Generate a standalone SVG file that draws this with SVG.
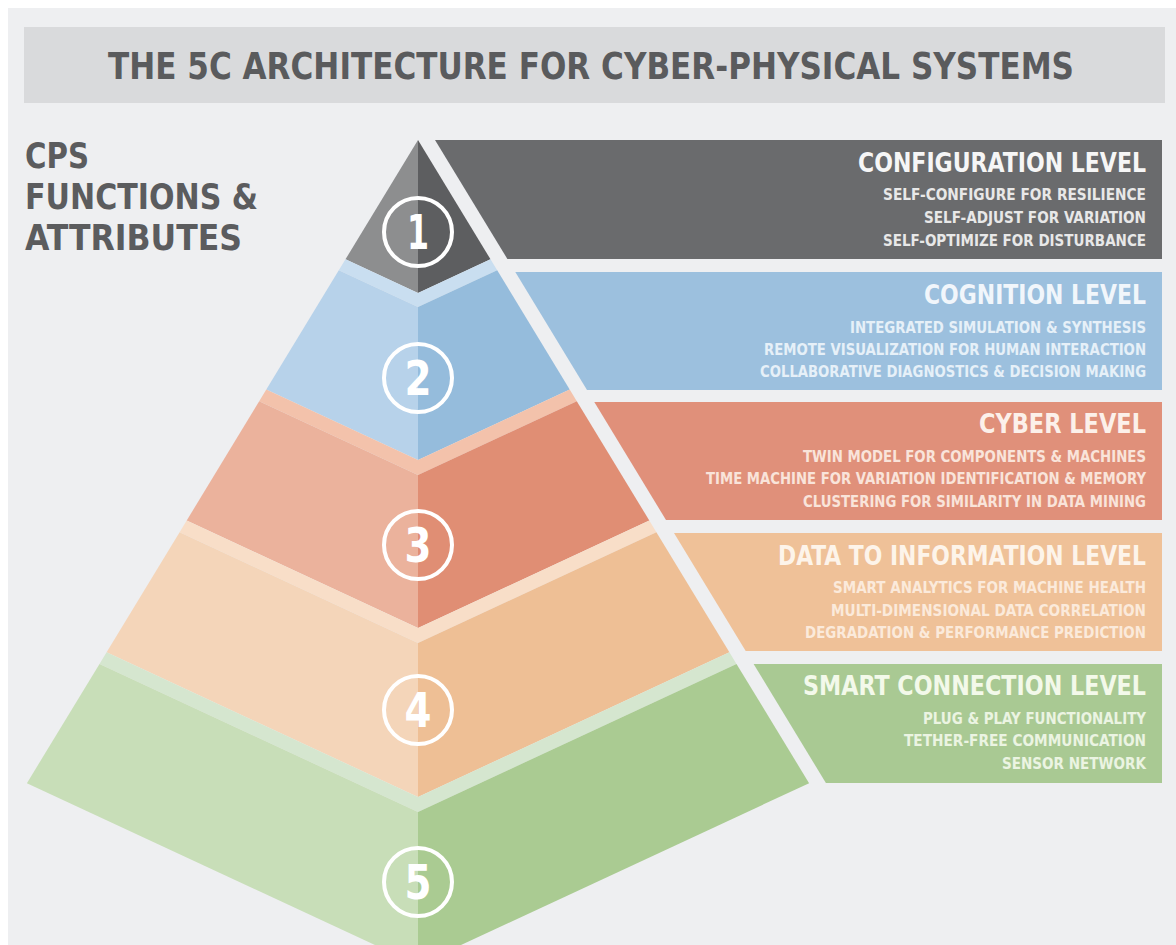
<svg xmlns="http://www.w3.org/2000/svg" width="1176" height="945" viewBox="0 0 1176 945">
<style>
.h{font-family:"DejaVu Sans Condensed","DejaVu Sans","Liberation Sans",sans-serif;font-weight:bold;font-stretch:condensed;}
.bt{font-size:26px;text-anchor:end;}
.bl{font-size:15px;text-anchor:end;}
.num{font-size:48px;fill:#ffffff;text-anchor:middle;}
.ring{fill:none;stroke:#ffffff;stroke-width:4;}
</style>
<rect x="0" y="0" width="1176" height="945" fill="#ffffff"/>
<rect x="8" y="8" width="1168" height="937" fill="#eeeff1"/>
<g id="title">
<rect x="24" y="27" width="1141" height="76" fill="#d9dadc"/>
<text class="h" x="108" y="79" font-size="37" fill="#5a5b5d" textLength="966" lengthAdjust="spacingAndGlyphs">THE 5C ARCHITECTURE FOR CYBER-PHYSICAL SYSTEMS</text>
</g>
<g id="side-label" class="h" font-size="35" fill="#5b5c5e">
<text x="25" y="168" textLength="64" lengthAdjust="spacingAndGlyphs">CPS</text>
<text x="25" y="209" textLength="233" lengthAdjust="spacingAndGlyphs">FUNCTIONS &amp;</text>
<text x="25" y="250" textLength="217" lengthAdjust="spacingAndGlyphs">ATTRIBUTES</text>
</g>
<g id="pyramid">
<g id="level1">
<polygon points="418,140 345.5,259.3 418,293" fill="#8d8e8f"/>
<polygon points="418,140 490.5,259.3 418,293" fill="#5d5e60"/>
<circle class="ring" cx="418" cy="232" r="34"/>
<text class="h num" x="418" y="249" textLength="22" lengthAdjust="spacingAndGlyphs">1</text>
</g>
<g id="level2">
<polygon points="345.5,259.3 418,293 490.5,259.3 497.2,270.2 418,307 338.8,270.2" fill="#c9def0"/>
<polygon points="338.8,270.2 418,307 418,460 266.3,389.5" fill="#b7d2ea"/>
<polygon points="418,307 497.2,270.2 569.7,389.5 418,460" fill="#95bcdc"/>
<circle class="ring" cx="418" cy="378" r="34"/>
<text class="h num" x="418" y="395" textLength="27" lengthAdjust="spacingAndGlyphs">2</text>
</g>
<g id="level3">
<polygon points="266.3,389.5 418,460 569.7,389.5 576.8,401.2 418,475 259.2,401.2" fill="#f3c2ab"/>
<polygon points="259.2,401.2 418,475 418,628 186.7,520.5" fill="#ebb29c"/>
<polygon points="418,475 576.8,401.2 649.3,520.5 418,628" fill="#e08e74"/>
<circle class="ring" cx="418" cy="545" r="34"/>
<text class="h num" x="418" y="562" textLength="27" lengthAdjust="spacingAndGlyphs">3</text>
</g>
<g id="level4">
<polygon points="186.7,520.5 418,628 649.3,520.5 656.4,532.2 418,643 179.6,532.2" fill="#f8dec8"/>
<polygon points="179.6,532.2 418,643 418,797 106.6,652.2" fill="#f4d5b9"/>
<polygon points="418,643 656.4,532.2 729.4,652.2 418,797" fill="#eebf95"/>
<circle class="ring" cx="418" cy="710" r="34"/>
<text class="h num" x="418" y="727" textLength="27" lengthAdjust="spacingAndGlyphs">4</text>
</g>
<g id="level5">
<polygon points="106.6,652.2 418,797 729.4,652.2 736.5,663.9 418,812 99.5,663.9" fill="#d5e6cf"/>
<polygon points="99.5,663.9 418,812 418,965 26.9,783.2" fill="#c8deb8"/>
<polygon points="418,812 736.5,663.9 809.1,783.2 418,965" fill="#aacb92"/>
<circle class="ring" cx="418" cy="882" r="34"/>
<text class="h num" x="418" y="899" textLength="27" lengthAdjust="spacingAndGlyphs">5</text>
</g>
</g>
<g id="box1">
<polygon points="435,140 1162,140 1162,259 507.4,259" fill="#6a6b6d"/>
<text class="h bt" x="1146" y="172" fill="#f6f6f6" textLength="288" lengthAdjust="spacingAndGlyphs">CONFIGURATION LEVEL</text>
<g class="h bl" fill="#e8e8e8">
<text x="1146" y="200" textLength="263" lengthAdjust="spacingAndGlyphs">SELF-CONFIGURE FOR RESILIENCE</text>
<text x="1146" y="223" textLength="222" lengthAdjust="spacingAndGlyphs">SELF-ADJUST FOR VARIATION</text>
<text x="1146" y="246" textLength="263" lengthAdjust="spacingAndGlyphs">SELF-OPTIMIZE FOR DISTURBANCE</text>
</g>
</g>
<g id="box2">
<polygon points="515.3,272 1162,272 1162,390 587,390" fill="#9cc0de"/>
<text class="h bt" x="1146" y="304" fill="#f1f6fb" textLength="222" lengthAdjust="spacingAndGlyphs">COGNITION LEVEL</text>
<g class="h bl" fill="#e6f0f8">
<text x="1146" y="333" textLength="296" lengthAdjust="spacingAndGlyphs">INTEGRATED SIMULATION &amp; SYNTHESIS</text>
<text x="1146" y="355" textLength="382" lengthAdjust="spacingAndGlyphs">REMOTE VISUALIZATION FOR HUMAN INTERACTION</text>
<text x="1146" y="377" textLength="386" lengthAdjust="spacingAndGlyphs">COLLABORATIVE DIAGNOSTICS &amp; DECISION MAKING</text>
</g>
</g>
<g id="box3">
<polygon points="594.3,402 1162,402 1162,520 666,520" fill="#e0907a"/>
<text class="h bt" x="1146" y="433" fill="#fcf0ea" textLength="167" lengthAdjust="spacingAndGlyphs">CYBER LEVEL</text>
<g class="h bl" fill="#f9e4da">
<text x="1146" y="462" textLength="343" lengthAdjust="spacingAndGlyphs">TWIN MODEL FOR COMPONENTS &amp; MACHINES</text>
<text x="1146" y="484" textLength="440" lengthAdjust="spacingAndGlyphs">TIME MACHINE FOR VARIATION IDENTIFICATION &amp; MEMORY</text>
<text x="1146" y="507" textLength="343" lengthAdjust="spacingAndGlyphs">CLUSTERING FOR SIMILARITY IN DATA MINING</text>
</g>
</g>
<g id="box4">
<polygon points="674,533 1162,533 1162,651 745.7,651" fill="#efc198"/>
<text class="h bt" x="1146" y="565" fill="#fdf4ea" textLength="368" lengthAdjust="spacingAndGlyphs">DATA TO INFORMATION LEVEL</text>
<g class="h bl" fill="#fbeadb">
<text x="1146" y="593" textLength="313" lengthAdjust="spacingAndGlyphs">SMART ANALYTICS FOR MACHINE HEALTH</text>
<text x="1146" y="616" textLength="315" lengthAdjust="spacingAndGlyphs">MULTI-DIMENSIONAL DATA CORRELATION</text>
<text x="1146" y="638" textLength="341" lengthAdjust="spacingAndGlyphs">DEGRADATION &amp; PERFORMANCE PREDICTION</text>
</g>
</g>
<g id="box5">
<polygon points="753.6,664 1162,664 1162,783 825.9,783" fill="#a9c993"/>
<text class="h bt" x="1146" y="695" fill="#f3f9ea" textLength="343" lengthAdjust="spacingAndGlyphs">SMART CONNECTION LEVEL</text>
<g class="h bl" fill="#ebf4e2">
<text x="1146" y="724" textLength="223" lengthAdjust="spacingAndGlyphs">PLUG &amp; PLAY FUNCTIONALITY</text>
<text x="1146" y="746" textLength="242" lengthAdjust="spacingAndGlyphs">TETHER-FREE COMMUNICATION</text>
<text x="1146" y="769" textLength="144" lengthAdjust="spacingAndGlyphs">SENSOR NETWORK</text>
</g>
</g>
<g id="connectors"></g>
</svg>
